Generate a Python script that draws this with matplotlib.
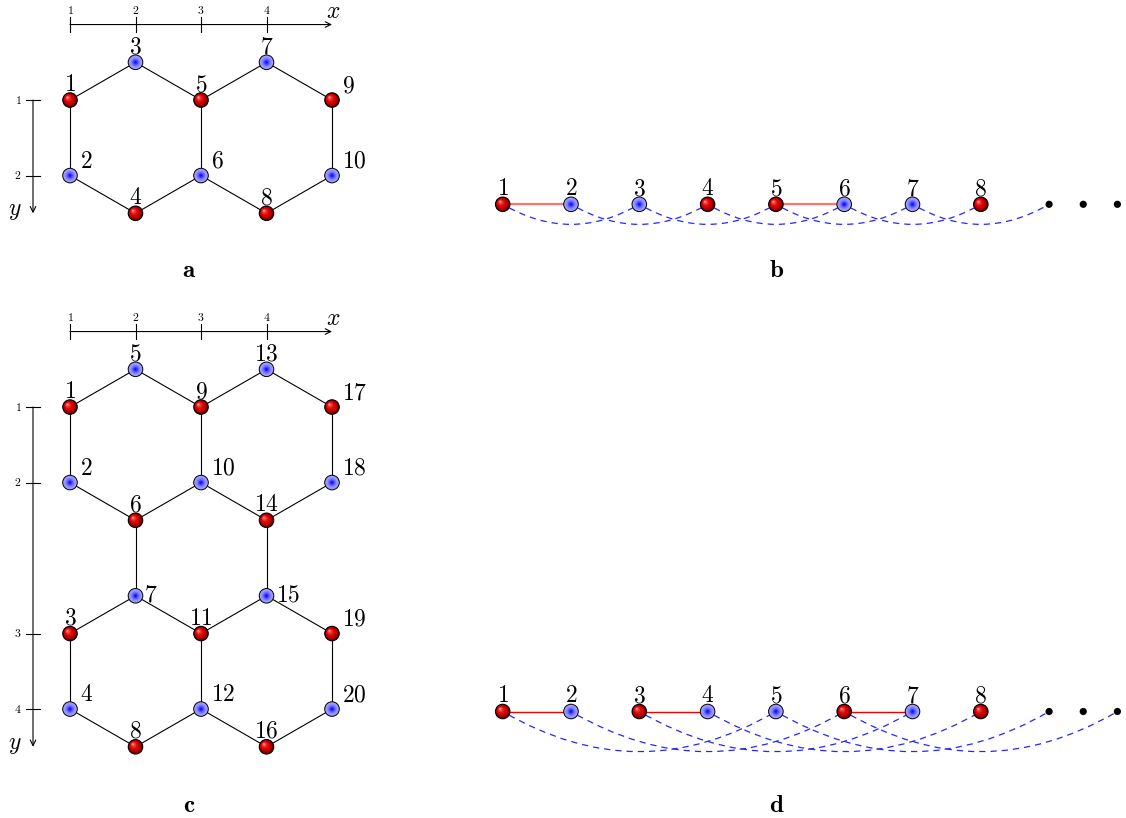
import numpy as np
import matplotlib
matplotlib.use("Agg")
import matplotlib.pyplot as plt
from matplotlib.patches import Circle, PathPatch
from matplotlib.path import Path

plt.rcParams['mathtext.fontset'] = 'cm'

# ---------------- data ----------------
# panel a: hexagon lattice (column, half-row), kind, label placement
a_ids = [1, 2, 3, 4, 5, 6, 7, 8, 9, 10]
a_col = [0, 0, 1, 1, 2, 2, 3, 3, 4, 4]
a_row = [1, 3, 0, 4, 1, 3, 0, 4, 1, 3]
a_kind = ['r', 'b', 'b', 'r', 'r', 'b', 'b', 'r', 'r', 'b']
a_pos = ['above', 'ar', 'above', 'above', 'above', 'ar', 'above', 'above', 'ar', 'ar']
a_edges = [(1, 3), (3, 5), (5, 7), (7, 9), (1, 2), (5, 6), (9, 10),
           (2, 4), (4, 6), (6, 8), (8, 10)]
a_ytick_rows = [1, 3]
a_ytick_labels = ['1', '2']

# panel c
c_ids = list(range(1, 21))
c_col = [0, 0, 0, 0, 1, 1, 1, 1, 2, 2, 2, 2, 3, 3, 3, 3, 4, 4, 4, 4]
c_row = [1, 3, 7, 9, 0, 4, 6, 10, 1, 3, 7, 9, 0, 4, 6, 10, 1, 3, 7, 9]
c_kind = ['r', 'b', 'r', 'b', 'b', 'r', 'b', 'r', 'r', 'b', 'r', 'b',
          'b', 'r', 'b', 'r', 'r', 'b', 'r', 'b']
c_pos = ['above', 'ar', 'above', 'ar', 'above', 'above', 'right', 'above',
         'above', 'ar', 'above', 'ar', 'above', 'above', 'right', 'above',
         'ar', 'ar', 'ar', 'ar']
c_edges = [(1, 5), (5, 9), (9, 13), (13, 17), (1, 2), (9, 10), (17, 18),
           (2, 6), (6, 10), (10, 14), (14, 18), (6, 7), (14, 15),
           (7, 3), (7, 11), (11, 15), (15, 19), (3, 4), (11, 12), (19, 20),
           (4, 8), (8, 12), (12, 16), (16, 20)]
c_ytick_rows = [1, 3, 7, 9]
c_ytick_labels = ['1', '2', '3', '4']

x_tick_cols = [0, 1, 2, 3]
x_tick_labels = ['1', '2', '3', '4']

# panel b: chain
b_ids = [1, 2, 3, 4, 5, 6, 7, 8]
b_kind = ['r', 'b', 'b', 'r', 'r', 'b', 'b', 'r']
b_solid = [(1, 2), (5, 6)]
b_dashed = [(1, 3), (2, 4), (3, 5), (4, 6), (5, 7), (6, 8), (7, 9)]

# panel d: chain
d_ids = [1, 2, 3, 4, 5, 6, 7, 8]
d_kind = ['r', 'b', 'r', 'b', 'b', 'r', 'b', 'r']
d_solid = [(1, 2), (3, 4), (6, 7)]
d_dashed = [(1, 5), (2, 6), (3, 7), (4, 8), (5, 9), (6, 10)]

dots_pos = [9, 9.5, 10]

# ---------------- layout ----------------
W, H = 1126, 818
fig = plt.figure(figsize=(W / 100, H / 100), dpi=100)
ax = fig.add_axes([0, 0, 1, 1])
ax.set_xlim(0, W)
ax.set_ylim(H, 0)
ax.axis('off')

DX, DY = 65.5, 37.75          # lattice spacing (px)
R = 7.3                        # node radius
LAB_FS = 17
TICK_FS = 8.5
CHAIN_X0, CHAIN_DX = 502.7, 68.3


def draw_node(x, y, kind):
    n = 24
    if kind == 'r':
        off = np.array([-0.38 * R, -0.38 * R])
        stops = [(0.0, (0.30, 0.0, 0.0)), (0.25, (0.70, 0.0, 0.0)),
                 (0.55, (0.90, 0.02, 0.02)), (0.8, (0.97, 0.25, 0.25)),
                 (1.0, (1.0, 0.75, 0.75))]
    else:
        off = np.array([0.0, 0.0])
        stops = [(0.0, (0.66, 0.66, 1.0)), (0.4, (0.55, 0.55, 1.0)),
                 (0.7, (0.30, 0.30, 1.0)), (1.0, (0.0, 0.0, 1.0))]
    ts = [s[0] for s in stops]
    cols = np.array([s[1] for s in stops])
    for k in range(n):
        t = k / (n - 1)
        c = [np.interp(t, ts, cols[:, j]) for j in range(3)]
        rr = R * (1 - t * 0.97)
        cx = x + off[0] * t
        cy = y + off[1] * t
        ax.add_patch(Circle((cx, cy), rr, facecolor=c, edgecolor='none', zorder=5))
    ax.add_patch(Circle((x, y), R, facecolor='none', edgecolor='black',
                        lw=0.7, zorder=6))


def node_label(x, y, text, pos):
    s = f'${text}$'
    if pos == 'above':
        ax.text(x, y - 9, s, ha='center', va='baseline', fontsize=LAB_FS, zorder=7)
    elif pos == 'ar':
        ax.text(x + 10, y - 8, s, ha='left', va='baseline', fontsize=LAB_FS, zorder=7)
    else:
        ax.text(x + 9, y + 6, s, ha='left', va='baseline', fontsize=LAB_FS, zorder=7)


def hex_panel(ox, oy, ids, cols, rows, kinds, poss, edges, ytrows, ytlabels, maxrow):
    P = {i: (ox + c * DX, oy + r * DY) for i, c, r in zip(ids, cols, rows)}
    for u, v in edges:
        ax.plot([P[u][0], P[v][0]], [P[u][1], P[v][1]], color='black',
                lw=0.8, zorder=3, solid_capstyle='butt')
    for i, k, p in zip(ids, kinds, poss):
        draw_node(P[i][0], P[i][1], k)
        node_label(P[i][0], P[i][1], i, p)
    # x axis
    ya = oy - DY
    ax.annotate('', xy=(ox + 4 * DX, ya), xytext=(ox, ya),
                arrowprops=dict(arrowstyle='->,head_length=0.4,head_width=0.2',
                                lw=0.8, color='black', shrinkA=0, shrinkB=0))
    for c, l in zip(x_tick_cols, x_tick_labels):
        xx = ox + c * DX
        ax.plot([xx, xx], [ya - 7.5, ya + 7.5], color='black', lw=0.8)
        ax.text(xx, ya - 14, f'${l}$', ha='center', va='center', fontsize=TICK_FS)
    ax.text(ox + 4 * DX + 1, ya - 14, '$x$', ha='center', va='center', fontsize=LAB_FS)
    # y axis
    xa = 33
    ax.annotate('', xy=(xa, oy + maxrow * DY), xytext=(xa, oy + DY),
                arrowprops=dict(arrowstyle='->,head_length=0.4,head_width=0.2',
                                lw=0.8, color='black', shrinkA=0, shrinkB=0))
    for r, l in zip(ytrows, ytlabels):
        yy = oy + r * DY
        ax.plot([xa - 7, xa + 7], [yy, yy], color='black', lw=0.8)
        ax.text(xa - 15, yy, f'${l}$', ha='center', va='center', fontsize=TICK_FS)
    ax.text(xa - 18, oy + maxrow * DY - 3, '$y$', ha='center', va='center',
            fontsize=LAB_FS)


def chain_panel(y, ids, kinds, solid, dashed, solid_color, solid_lw):
    X = {i: CHAIN_X0 + (i - 1) * CHAIN_DX for i in list(ids) + dots_pos}
    for u, v in solid:
        ax.plot([X[u], X[v]], [y, y], color=solid_color, lw=solid_lw, zorder=3)
    ang = np.deg2rad(30)
    for u, v in dashed:
        x1, x2 = X[u], X[v]
        L = x2 - x1
        d = 0.3915 * L
        verts = [(x1, y), (x1 + d * np.cos(ang), y + d * np.sin(ang)),
                 (x2 - d * np.cos(ang), y + d * np.sin(ang)), (x2, y)]
        path = Path(verts, [Path.MOVETO, Path.CURVE4, Path.CURVE4, Path.CURVE4])
        ax.add_patch(PathPatch(path, facecolor='none', edgecolor=(0.15, 0.15, 1.0),
                               lw=0.9, linestyle=(3, (5.0, 4.0)), zorder=2))
    for i, k in zip(ids, kinds):
        draw_node(X[i], y, k)
        node_label(X[i], y, i, 'above')
    for p in dots_pos:
        ax.add_patch(Circle((X[p], y), 3.6, facecolor='black', edgecolor='none', zorder=5))


hex_panel(70, 62.3, a_ids, a_col, a_row, a_kind, a_pos, a_edges,
          a_ytick_rows, a_ytick_labels, 4)
hex_panel(70, 369.3, c_ids, c_col, c_row, c_kind, c_pos, c_edges,
          c_ytick_rows, c_ytick_labels, 10)
chain_panel(204.3, b_ids, b_kind, b_solid, b_dashed, (1.0, 0.45, 0.45), 1.6)
chain_panel(711.5, d_ids, d_kind, d_solid, d_dashed, (0.95, 0.0, 0.0), 1.0)

for lab, (x, y) in zip(['a', 'b', 'c', 'd'],
                       [(189, 270), (777, 270), (189, 805), (777, 805)]):
    ax.text(x, y, r'$\mathbf{%s}$' % lab, ha='center', va='center', fontsize=18)

fig.savefig('out.png', dpi=100)
